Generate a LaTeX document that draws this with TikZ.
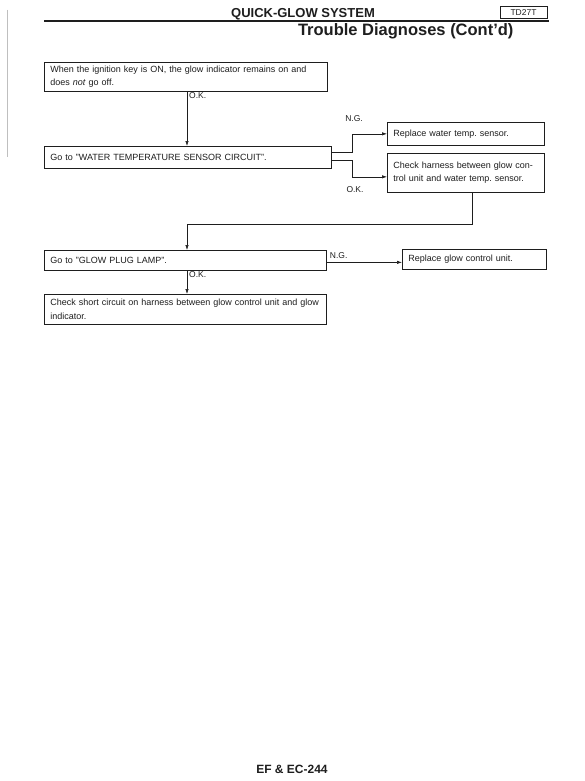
\documentclass[tikz,border=0pt]{standalone}
\usepackage{fontspec}
\setmainfont{Liberation Sans}
\usetikzlibrary{arrows.meta,positioning,calc}
\definecolor{ink}{RGB}{30,30,30}
\frenchspacing
\tikzset{
  stepbox/.style={draw=ink, line width=0.7pt, anchor=north west, inner xsep=6pt, inner ysep=0pt,
    align=left, text=ink, font=\fontsize{9}{13.5}\selectfont},
  flow/.style={draw=ink, line width=0.6pt, -{Latex[length=5pt,width=3.4pt]}},
  lbl/.style={font=\fontsize{8.5}{10}\selectfont, text=ink, inner sep=1pt},
}

\begin{document}
\begin{tikzpicture}[x=1pt,y=-1pt]
  \fill[white] (0,0) rectangle (585,781);
  \useasboundingbox (0,0) rectangle (585,781);
  % scanned page edge
  \draw[black!25, line width=0.4pt] (7,10) -- (7,157);
  % header
  \node[font=\bfseries\fontsize{13}{15}\selectfont, anchor=base, text=ink] (title) at (303,18) {QUICK-GLOW SYSTEM};
  \node[draw=ink, line width=0.6pt, font=\fontsize{8.5}{9}\selectfont, text=ink, minimum width=47pt, minimum height=12pt, inner sep=0pt, text height=6.1pt, text depth=0pt] (code) at (523.5,12) {TD27T};
  \draw[ink, line width=1.8pt] (44,21) -- (549,21);
  \node[font=\bfseries\fontsize{16.5}{18}\selectfont, anchor=base east, text=ink] (sub) at (517,36) {Trouble Diagnoses (Cont'd)};
  % branch points
  \coordinate (trunk) at (187,0);
  \coordinate (fork) at (352,0);
  \coordinate (drop) at (472,224);
  % steps
  \node[stepbox, minimum width=283pt, minimum height=29pt, text width=271pt] (ign) at (44,62)
    {When the ignition key is ON, the glow indicator remains on and\\does \textit{not} go off.};
  \node[stepbox, minimum width=287pt, minimum height=22pt, text width=275pt] (wts) at (44,146)
    {Go to "WATER TEMPERATURE SENSOR CIRCUIT".};
  \node[stepbox, minimum width=157pt, minimum height=23pt, text width=145pt] (rws) at (387,122)
    {Replace water temp. sensor.};
  \node[stepbox, minimum width=157pt, minimum height=39pt, text width=145pt] (hns) at (387,153)
    {Check harness between glow con-\\trol unit and water temp. sensor.};
  \node[stepbox, minimum width=282pt, minimum height=20pt, text width=270pt] (gpl) at (44,250)
    {Go to "GLOW PLUG LAMP".};
  \node[stepbox, minimum width=144pt, minimum height=20pt, text width=132pt] (rgc) at (402,249)
    {Replace glow control unit.};
  \node[stepbox, minimum width=282pt, minimum height=30pt, text width=270pt] (chk) at (44,294)
    {Check short circuit on harness between glow control unit and glow\\indicator.};
  % connectors
  \draw[flow] (ign.south -| trunk) -- (wts.north -| trunk);
  \node[lbl, anchor=north west] (ok1) at ([xshift=1pt]ign.south -| trunk) {O.K.};
  \draw[flow] ([yshift=5pt]wts.east) -- ([yshift=5pt]wts.east -| fork) |- (rws.west);
  \node[lbl, anchor=south] (ng1) at ([xshift=2pt,yshift=11pt]rws.west -| fork) {N.G.};
  \draw[flow] ([yshift=-3pt]wts.east) -- ([yshift=-3pt]wts.east -| fork) |- ([yshift=-4pt]hns.west);
  \node[lbl, anchor=north] (ok2) at ([xshift=3pt,yshift=-13pt]hns.west -| fork) {O.K.};
  \draw[flow] (hns.south -| drop) -- (drop) -| (gpl.north -| trunk);
  \draw[flow] ([yshift=-2pt]gpl.east) -- ([yshift=-2pt]gpl.east -| rgc.west);
  \node[lbl, anchor=north west] (ng2) at ([xshift=2pt,yshift=-1pt]gpl.north east) {N.G.};
  \draw[flow] (gpl.south -| trunk) -- (chk.north -| trunk);
  \node[lbl, anchor=north west] (ok3) at ([xshift=1pt]gpl.south -| trunk) {O.K.};
  % footer
  \node[font=\bfseries\fontsize{12}{14}\selectfont, anchor=base, text=ink] (page) at (292,773) {EF \& EC-244};
\end{tikzpicture}
\end{document}
